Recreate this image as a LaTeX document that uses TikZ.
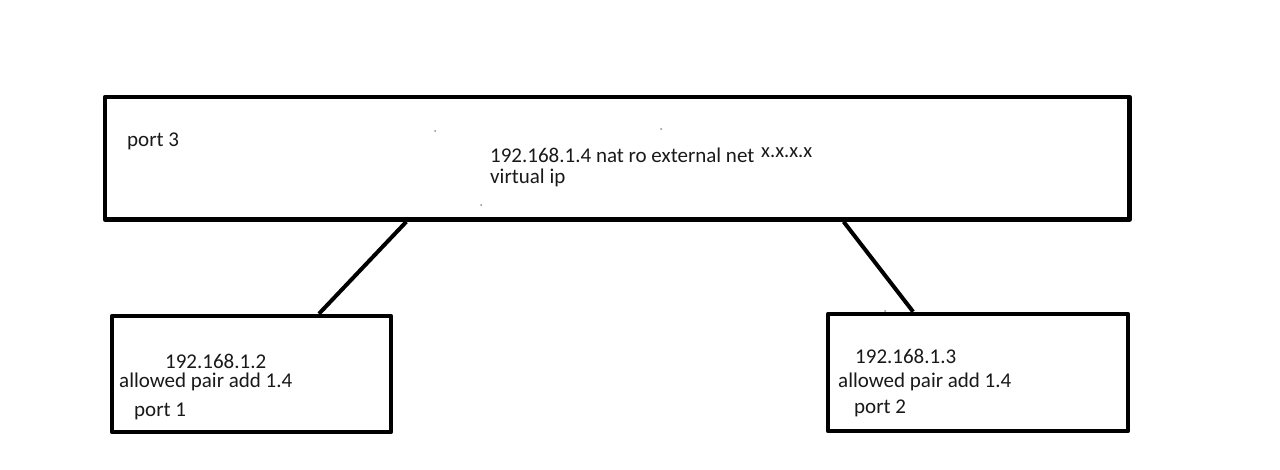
\documentclass[tikz,border=0pt]{standalone}
\usepackage{fontspec}
\setmainfont{Carlito}
\usetikzlibrary{positioning,calc}

\begin{document}
\begin{tikzpicture}[x=1pt, y=-1pt, line join=round,
  box/.style={draw, line width=4.5pt, inner sep=0pt},
  wire/.style={line width=4pt},
  txt/.style={anchor=base west, inner sep=0pt, text=black!90, font=\fontsize{21}{25}\selectfont},
  speck/.style={fill=black!45}]
\useasboundingbox (0,0) rectangle (1280,469);
% boxes
\node[box, minimum width=1024.5pt, minimum height=122.5pt] (router) at (617.25,158.25) {};
\node[box, minimum width=279pt,    minimum height=116pt]   (vm1)    at (251.5,374)     {};
\node[box, minimum width=300pt,    minimum height=117pt]   (vm2)    at (978,372.5)     {};
% ends of the wires
\coordinate (r1) at ($(router.south west)!0.295!(router.south east)$);
\coordinate (r2) at ($(router.south west)!0.720!(router.south east)$);
\coordinate (v1) at ($(vm1.north west)!0.738!(vm1.north east)$);
\coordinate (v2) at ($(vm2.north west)!0.287!(vm2.north east)$);
\draw[wire] (r1)--(v1);
\draw[wire] (r2)--(v2);
% texts
\node[txt] (p3)   at (127,146) {port 3};
\node[txt] (nat)  at (490,162) {192.168.1.4 nat ro external net};
\node[txt, font=\fontsize{20.5}{24}\selectfont] (ext) at (761,157) {x.x.x.x};
\node[txt] (vip)  at (490,183) {virtual ip};
\node[txt] (ip2)  at (165,368) {192.168.1.2};
\node[txt] (ap1)  at (119,387) {allowed pair add 1.4};
\node[txt] (p1)   at (134,416) {port 1};
\node[txt] (ip3)  at (855,363) {192.168.1.3};
\node[txt] (ap2)  at (838,387) {allowed pair add 1.4};
\node[txt] (p2)   at (854,413) {port 2};
% specks
\fill[speck] (435,131) circle (1pt);
\fill[speck] (661,129) circle (1pt);
\fill[speck] (481,205) circle (1pt);
\fill[speck] (885,311) circle (1pt);
\end{tikzpicture}
\end{document}
